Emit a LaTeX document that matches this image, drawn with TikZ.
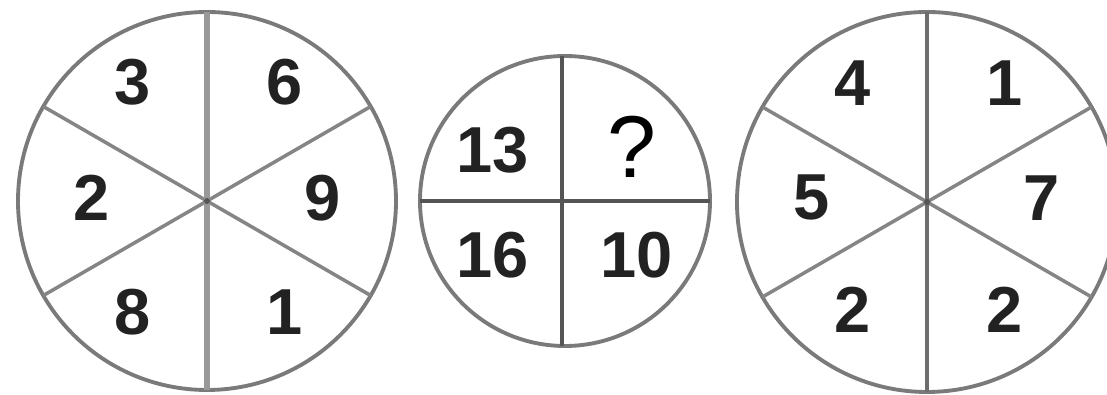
\documentclass[tikz,border=0pt]{standalone}
\usepackage{fontspec}
\setsansfont{Liberation Sans}
\usepackage{tikz}
\usetikzlibrary{calc}
\usepackage{xcolor}
\definecolor{ringgray}{HTML}{7A7A7A}
\definecolor{spokegray}{HTML}{858585}
\definecolor{axisgray}{HTML}{999999}
\definecolor{crossgray}{HTML}{555555}
\definecolor{digit}{HTML}{222222}

\begin{document}
\begin{tikzpicture}[x=0.02cm, y=0.02cm,
  ring/.style={ringgray, line width=2.2pt},
  spoke/.style={spokegray, line width=2pt},
  num/.style={font=\sffamily\bfseries\fontsize{37}{40}\selectfont, text=digit, inner sep=0pt}]
  \useasboundingbox (0,0) rectangle (1107,395);

  % circle centres
  \coordinate (cL) at (207,194);
  \coordinate (cM) at (565,194);
  \coordinate (cR) at (927,193);

  % left circle: six sectors
  \draw[ring] (cL) circle[radius=189];
  \foreach \a in {30,150,210,330}
    \draw[spoke] (cL) -- ++(\a:189);
  \draw[axisgray, line width=3.6pt] ($(cL)+(0,189)$) -- ($(cL)+(0,-189)$);
  \fill[crossgray] (cL) circle[radius=3];

  \node[num] (l3) at (133,313) {3};
  \node[num] (l6) at (285,313) {6};
  \node[num] (l2) at (92,197) {2};
  \node[num] (l9) at (323,197) {9};
  \node[num] (l8) at (133,83) {8};
  \node[num] (l1) at (285,83) {1};

  % middle circle: four quarters
  \draw[ring] (cM) circle[radius=145];
  \draw[crossgray, line width=2.2pt] ($(cM)+(-145,0)$) -- ($(cM)+(145,0)$);
  \draw[crossgray, line width=2.2pt] ($(cM)+(-3,145)$) -- ($(cM)+(-3,-145)$);

  \node[num] (m13) at (493,245) {13};
  \node[font=\sffamily\fontsize{50}{54}\selectfont, text=black, inner sep=0pt] (mq) at (632,248) {?};
  \node[num] (m16) at (493,140) {16};
  \node[num] (m10) at (637,140) {10};

  % right circle: six sectors
  \draw[ring] (cR) circle[radius=190];
  \foreach \a in {30,150,210,330}
    \draw[spoke] (cR) -- ++(\a:190);
  \draw[crossgray!85, line width=2.8pt] ($(cR)+(0,190)$) -- ($(cR)+(0,-190)$);
  \fill[crossgray] (cR) circle[radius=3];

  \node[num] (r4) at (853,312) {4};
  \node[num] (r1) at (1005,312) {1};
  \node[num] (r5) at (812,198) {5};
  \node[num] (r7) at (1042,197) {7};
  \node[num] (r2a) at (853,85) {2};
  \node[num] (r2b) at (1005,85) {2};
\end{tikzpicture}
\end{document}
